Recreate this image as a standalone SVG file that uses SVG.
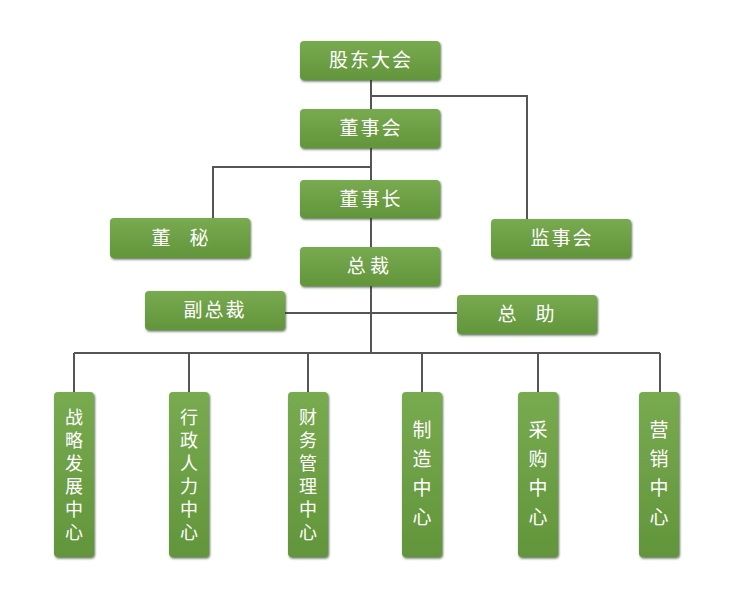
<svg xmlns="http://www.w3.org/2000/svg" width="749" height="600" viewBox="0 0 749 600">
<defs>
<linearGradient id="g" x1="0" y1="0" x2="0" y2="1">
<stop offset="0" stop-color="#78aa50"/>
<stop offset="1" stop-color="#62953b"/>
</linearGradient>
<filter id="sh" x="-10%" y="-10%" width="130%" height="130%">
<feDropShadow dx="1" dy="1.5" stdDeviation="0.8" flood-color="#1f3a10" flood-opacity="0.7"/>
</filter>
</defs>
<style>
.box{fill:url(#g);filter:url(#sh);}
.t{font-family:"Noto Sans CJK SC","Noto Sans",sans-serif;font-size:19px;fill:#fff;text-anchor:middle;}
.v{font-size:18px;}
.h{letter-spacing:2px;}
.ln{stroke:#555;stroke-width:2;fill:none;}
</style>
<rect width="749" height="600" fill="#fff"/>
<g id="connectors">
<path class="ln" d="M371 80V109M371 96H527V219M371 148V180M371 167H213V218M371 218V247M371 286V353M285 313H457M74 353H660M74 353V392M189 353V392M308 353V392M422 353V392M538 353V392M660 353V392"/>
</g>
<g id="gudong"><rect class="box" x="300" y="41" width="140" height="39" rx="4"/><text class="t h" x="371" y="67">股东大会</text></g>
<g id="dongshihui"><rect class="box" x="300" y="109" width="140" height="39" rx="4"/><text class="t h" x="371" y="135">董事会</text></g>
<g id="dongshizhang"><rect class="box" x="300" y="180" width="140" height="38" rx="4"/><text class="t h" x="371" y="206">董事长</text></g>
<g id="dongmi"><rect class="box" x="110" y="218" width="140" height="40" rx="4"/><text class="t" x="180" y="245">董　秘</text></g>
<g id="jianshihui"><rect class="box" x="491" y="219" width="140" height="39" rx="4"/><text class="t h" x="562" y="245">监事会</text></g>
<g id="zongcai"><rect class="box" x="300" y="247" width="140" height="39" rx="4"/><text class="t" x="368" y="273">总 裁</text></g>
<g id="fuzongcai"><rect class="box" x="145" y="291" width="140" height="39" rx="4"/><text class="t h" x="215" y="317">副总裁</text></g>
<g id="zongzhu"><rect class="box" x="457" y="295" width="140" height="39" rx="4"/><text class="t" x="526" y="321">总　助</text></g>
<g id="zhanlue"><rect class="box" x="54" y="392" width="40" height="165" rx="4"/><text class="t v" x="74" y="424"><tspan x="74">战</tspan><tspan x="74" dy="23">略</tspan><tspan x="74" dy="23">发</tspan><tspan x="74" dy="23">展</tspan><tspan x="74" dy="23">中</tspan><tspan x="74" dy="23">心</tspan></text></g>
<g id="xingzheng"><rect class="box" x="169" y="392" width="40" height="165" rx="4"/><text class="t v" x="189" y="424"><tspan x="189">行</tspan><tspan x="189" dy="23">政</tspan><tspan x="189" dy="23">人</tspan><tspan x="189" dy="23">力</tspan><tspan x="189" dy="23">中</tspan><tspan x="189" dy="23">心</tspan></text></g>
<g id="caiwu"><rect class="box" x="288" y="392" width="40" height="165" rx="4"/><text class="t v" x="308" y="424"><tspan x="308">财</tspan><tspan x="308" dy="23">务</tspan><tspan x="308" dy="23">管</tspan><tspan x="308" dy="23">理</tspan><tspan x="308" dy="23">中</tspan><tspan x="308" dy="23">心</tspan></text></g>
<g id="zhizao"><rect class="box" x="402" y="392" width="40" height="165" rx="4"/><text class="t" x="422" y="437"><tspan x="422">制</tspan><tspan x="422" dy="29">造</tspan><tspan x="422" dy="29">中</tspan><tspan x="422" dy="29">心</tspan></text></g>
<g id="caigou"><rect class="box" x="518" y="392" width="40" height="165" rx="4"/><text class="t" x="538" y="437"><tspan x="538">采</tspan><tspan x="538" dy="29">购</tspan><tspan x="538" dy="29">中</tspan><tspan x="538" dy="29">心</tspan></text></g>
<g id="yingxiao"><rect class="box" x="639" y="392" width="40" height="165" rx="4"/><text class="t" x="659" y="437"><tspan x="659">营</tspan><tspan x="659" dy="29">销</tspan><tspan x="659" dy="29">中</tspan><tspan x="659" dy="29">心</tspan></text></g>
</svg>
